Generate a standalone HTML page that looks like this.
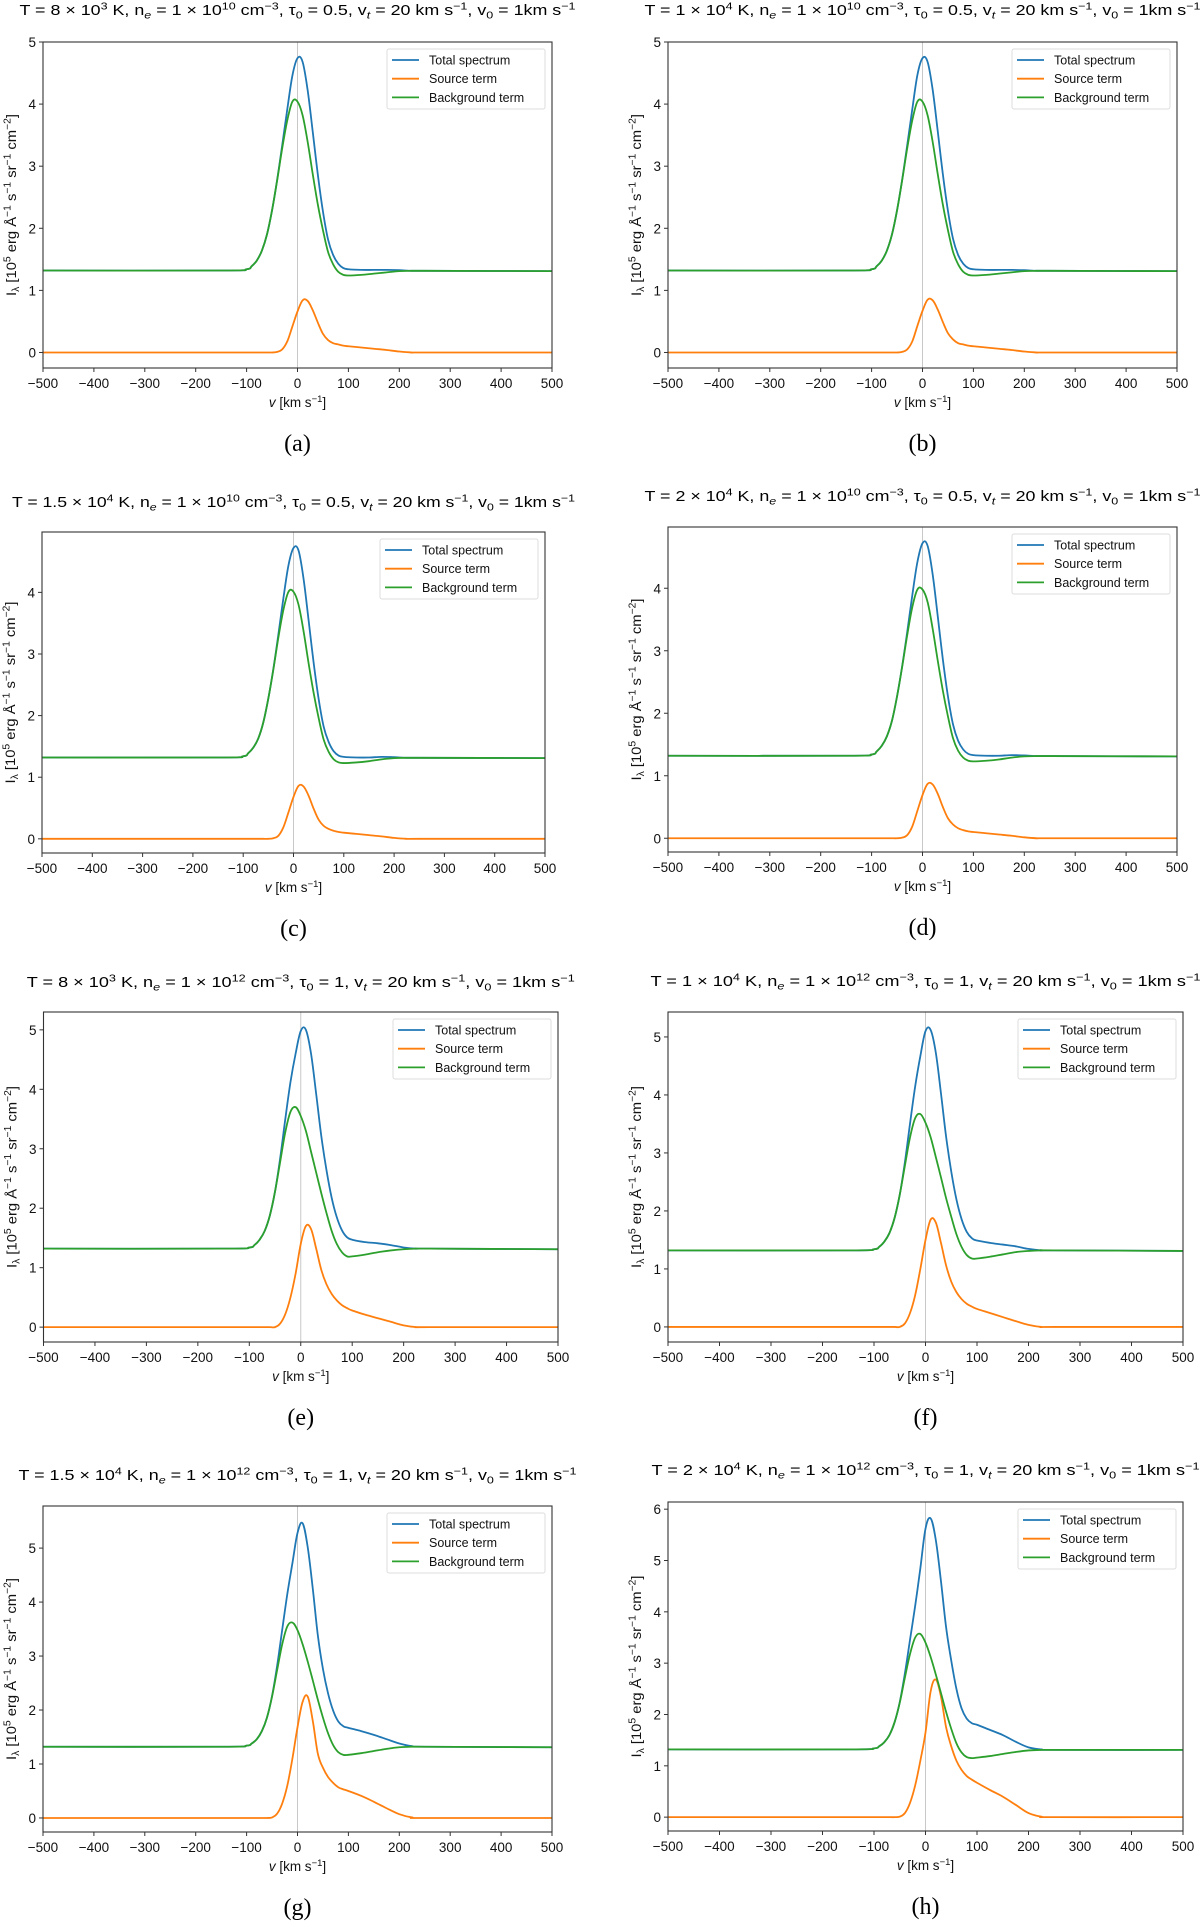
<!DOCTYPE html>
<html><head><meta charset="utf-8">
<style>
html,body{margin:0;padding:0;background:#fff;}
svg{display:block;font-family:"Liberation Sans","DejaVu Sans",sans-serif;}
</style></head>
<body>
<svg id="fig" width="1200" height="1924" viewBox="0 0 1200 1924" xmlns="http://www.w3.org/2000/svg"></svg>
<script>
// Shared velocity grid (km/s)
const velocities = [-500,-150,-100,-90,-80,-70,-60,-50,-40,-30,-20,-10,0,10,20,30,40,50,60,70,80,90,100,125,150,175,200,225,250,500];
const xTicks = [-500,-400,-300,-200,-100,0,100,200,300,400,500];
const xTickLabels = ["\u2212500","\u2212400","\u2212300","\u2212200","\u2212100","0","100","200","300","400","500"];

// (a)
const aBackground = [1.32,1.32,1.34,1.39,1.48,1.64,1.90,2.29,2.77,3.29,3.74,4.04,4.04,3.82,3.39,2.87,2.38,1.97,1.62,1.42,1.30,1.25,1.24,1.25,1.27,1.29,1.31,1.315,1.315,1.31];
const aSource = [0,0,0,0,0,0,0,0,0.01,0.05,0.18,0.42,0.66,0.84,0.83,0.68,0.48,0.30,0.20,0.15,0.13,0.11,0.10,0.08,0.06,0.04,0.015,0,0,0];
const aTotal = [1.32,1.32,1.34,1.39,1.48,1.64,1.90,2.29,2.78,3.34,3.92,4.46,4.74,4.68,4.22,3.55,2.86,2.27,1.82,1.57,1.43,1.36,1.34,1.33,1.33,1.33,1.325,1.315,1.315,1.31];
// (b)
const bBackground = [1.32,1.32,1.34,1.39,1.48,1.64,1.90,2.29,2.77,3.29,3.74,4.04,4.04,3.82,3.39,2.87,2.38,1.97,1.62,1.42,1.30,1.25,1.24,1.25,1.27,1.29,1.31,1.315,1.315,1.31];
const bSource = [0,0,0,0,0,0,0,0,0.01,0.05,0.18,0.43,0.67,0.85,0.84,0.69,0.49,0.31,0.21,0.15,0.13,0.11,0.10,0.08,0.06,0.04,0.015,0,0,0];
const bTotal = [1.32,1.32,1.34,1.39,1.48,1.64,1.90,2.29,2.78,3.34,3.92,4.47,4.74,4.68,4.23,3.56,2.87,2.28,1.83,1.57,1.43,1.36,1.34,1.33,1.33,1.33,1.325,1.315,1.315,1.31];
// (c)
const cBackground = [1.32,1.32,1.34,1.39,1.48,1.63,1.89,2.28,2.75,3.27,3.72,4.01,4.01,3.80,3.37,2.85,2.37,1.96,1.61,1.41,1.29,1.24,1.23,1.24,1.26,1.29,1.31,1.315,1.315,1.31];
const cSource = [0,0,0,0,0,0,0,0,0.01,0.05,0.19,0.43,0.68,0.86,0.85,0.70,0.49,0.31,0.21,0.16,0.13,0.11,0.10,0.08,0.06,0.04,0.015,0,0,0];
const cTotal = [1.32,1.32,1.34,1.39,1.48,1.63,1.89,2.28,2.76,3.32,3.91,4.44,4.72,4.68,4.22,3.55,2.86,2.27,1.82,1.57,1.42,1.35,1.33,1.32,1.32,1.33,1.325,1.315,1.315,1.31];
// (d)
const dBackground = [1.32,1.32,1.34,1.39,1.48,1.63,1.88,2.27,2.74,3.25,3.70,3.98,3.98,3.78,3.35,2.84,2.36,1.95,1.60,1.40,1.29,1.24,1.23,1.24,1.26,1.29,1.31,1.315,1.315,1.31];
const dSource = [0,0,0,0,0,0,0,0,0.01,0.05,0.19,0.44,0.69,0.87,0.86,0.71,0.50,0.32,0.22,0.16,0.13,0.11,0.10,0.08,0.06,0.04,0.015,0,0,0];
const dTotal = [1.32,1.32,1.34,1.39,1.48,1.63,1.88,2.27,2.75,3.30,3.89,4.42,4.72,4.68,4.22,3.55,2.86,2.27,1.82,1.56,1.42,1.35,1.33,1.32,1.32,1.33,1.325,1.315,1.315,1.31];
// (e)
const eBackground = [1.32,1.32,1.34,1.38,1.47,1.62,1.88,2.28,2.78,3.28,3.62,3.70,3.55,3.30,2.95,2.60,2.25,1.92,1.62,1.40,1.26,1.19,1.19,1.22,1.26,1.29,1.31,1.32,1.32,1.31];
const eSource = [0,0,0,0,0,0,0,0,0.06,0.22,0.50,0.90,1.40,1.70,1.65,1.32,0.96,0.72,0.56,0.45,0.37,0.32,0.28,0.21,0.15,0.09,0.03,0,0,0];
const eTotal = [1.32,1.32,1.34,1.38,1.47,1.62,1.88,2.28,2.84,3.50,4.12,4.60,4.98,5.00,4.60,3.92,3.21,2.64,2.18,1.85,1.63,1.51,1.47,1.43,1.41,1.38,1.34,1.32,1.32,1.31];
// (f)
const fBackground = [1.32,1.32,1.34,1.38,1.47,1.62,1.88,2.28,2.78,3.27,3.60,3.67,3.52,3.27,2.93,2.58,2.22,1.90,1.60,1.38,1.24,1.18,1.18,1.21,1.25,1.29,1.31,1.32,1.32,1.31];
const fSource = [0,0,0,0,0,0,0,0,0.06,0.24,0.55,1.00,1.50,1.85,1.80,1.45,1.06,0.78,0.60,0.48,0.40,0.35,0.31,0.24,0.17,0.10,0.035,0,0,0];
const fTotal = [1.32,1.32,1.34,1.38,1.47,1.62,1.88,2.28,2.84,3.51,4.15,4.67,5.10,5.12,4.73,4.03,3.28,2.68,2.20,1.86,1.64,1.53,1.49,1.45,1.42,1.39,1.345,1.32,1.32,1.31];
// (g)
const gBackground = [1.32,1.32,1.34,1.38,1.46,1.61,1.86,2.25,2.74,3.22,3.55,3.62,3.48,3.22,2.90,2.55,2.19,1.86,1.57,1.35,1.22,1.17,1.17,1.20,1.24,1.28,1.31,1.32,1.32,1.31];
const gSource = [0,0,0,0,0,0,0,0.01,0.08,0.27,0.60,1.10,1.68,2.15,2.25,1.80,1.19,0.93,0.76,0.65,0.57,0.53,0.50,0.41,0.30,0.18,0.07,0.01,0,0];
const gTotal = [1.32,1.32,1.34,1.38,1.46,1.61,1.86,2.26,2.82,3.49,4.15,4.72,5.28,5.46,5.02,4.25,3.38,2.76,2.31,1.99,1.79,1.70,1.67,1.61,1.54,1.46,1.38,1.33,1.32,1.31];
// (h)
const hBackground = [1.32,1.32,1.34,1.38,1.46,1.60,1.85,2.23,2.72,3.18,3.50,3.57,3.40,3.12,2.78,2.42,2.05,1.72,1.44,1.26,1.17,1.15,1.16,1.19,1.23,1.27,1.30,1.31,1.31,1.31];
const hSource = [0,0,0,0,0,0,0,0.01,0.08,0.28,0.62,1.10,1.65,2.45,2.68,2.35,1.75,1.38,1.10,0.92,0.80,0.73,0.67,0.53,0.40,0.24,0.08,0.01,0,0];
const hTotal = [1.32,1.32,1.34,1.38,1.46,1.60,1.85,2.24,2.80,3.46,4.12,4.85,5.62,5.82,5.40,4.60,3.70,3.05,2.50,2.12,1.92,1.83,1.80,1.70,1.60,1.47,1.36,1.32,1.31,1.31];

const seriesNames = ["Total spectrum","Source term","Background term"];
const colors = ["#1f77b4","#ff7f0e","#2ca02c"];

const panels = [
 {id:"a", total:aTotal, source:aSource, bg:aBackground, L:43, R:552, T:42, B:368, ymin:-0.25, ymax:5.0, yt:[0,1,2,3,4,5], tw:556, title:"T = 8 × 10^{3} K, n_{e} = 1 × 10^{10} cm^{−3}, τ_{0} = 0.5, v_{t} = 20 km s^{−1}, v_{0} = 1km s^{−1}"},
 {id:"b", total:bTotal, source:bSource, bg:bBackground, L:668, R:1177, T:42, B:368, ymin:-0.25, ymax:5.0, yt:[0,1,2,3,4,5], tw:556, title:"T = 1 × 10^{4} K, n_{e} = 1 × 10^{10} cm^{−3}, τ_{0} = 0.5, v_{t} = 20 km s^{−1}, v_{0} = 1km s^{−1}"},
 {id:"c", total:cTotal, source:cSource, bg:cBackground, L:42, R:545, T:532, B:853, ymin:-0.23, ymax:4.98, yt:[0,1,2,3,4], tw:563, title:"T = 1.5 × 10^{4} K, n_{e} = 1 × 10^{10} cm^{−3}, τ_{0} = 0.5, v_{t} = 20 km s^{−1}, v_{0} = 1km s^{−1}"},
 {id:"d", total:dTotal, source:dSource, bg:dBackground, L:668, R:1177, T:527, B:852, ymin:-0.22, ymax:4.98, yt:[0,1,2,3,4], tw:556, title:"T = 2 × 10^{4} K, n_{e} = 1 × 10^{10} cm^{−3}, τ_{0} = 0.5, v_{t} = 20 km s^{−1}, v_{0} = 1km s^{−1}"},
 {id:"e", total:eTotal, source:eSource, bg:eBackground, L:43.5, R:558, T:1012, B:1342, ymin:-0.25, ymax:5.30, yt:[0,1,2,3,4,5], tw:548, title:"T = 8 × 10^{3} K, n_{e} = 1 × 10^{12} cm^{−3}, τ_{0} = 1, v_{t} = 20 km s^{−1}, v_{0} = 1km s^{−1}"},
 {id:"f", total:fTotal, source:fSource, bg:fBackground, L:668, R:1183, T:1012, B:1342, ymin:-0.26, ymax:5.43, yt:[0,1,2,3,4,5], tw:550, title:"T = 1 × 10^{4} K, n_{e} = 1 × 10^{12} cm^{−3}, τ_{0} = 1, v_{t} = 20 km s^{−1}, v_{0} = 1km s^{−1}"},
 {id:"g", total:gTotal, source:gSource, bg:gBackground, L:43, R:552, T:1506, B:1832, ymin:-0.26, ymax:5.78, yt:[0,1,2,3,4,5], tw:558, title:"T = 1.5 × 10^{4} K, n_{e} = 1 × 10^{12} cm^{−3}, τ_{0} = 1, v_{t} = 20 km s^{−1}, v_{0} = 1km s^{−1}"},
 {id:"h", total:hTotal, source:hSource, bg:hBackground, L:668, R:1183, T:1502, B:1831, ymin:-0.27, ymax:6.14, yt:[0,1,2,3,4,5,6], tw:548, title:"T = 2 × 10^{4} K, n_{e} = 1 × 10^{12} cm^{−3}, τ_{0} = 1, v_{t} = 20 km s^{−1}, v_{0} = 1km s^{−1}"}
];
const titleY = {a:15,b:15,c:507,d:501,e:987,f:986,g:1480,h:1475};

const NS="http://www.w3.org/2000/svg";
const svg=document.getElementById("fig");
function mk(tag, attrs, parent){
  const e=document.createElementNS(NS,tag);
  for(const k in attrs) e.setAttribute(k,attrs[k]);
  (parent||svg).appendChild(e);
  return e;
}
function rich(textEl, str, size){
  const re=/(\^\{[^}]*\}|_\{[^}]*\})/g;
  const parts=str.split(re).filter(s=>s.length);
  let shift=0;
  parts.forEach(p=>{
    const t=document.createElementNS(NS,"tspan");
    let target=0, content=p, small=false, italic=false;
    if(p.startsWith("^{")){target=-0.38*size;content=p.slice(2,-1);small=true;}
    else if(p.startsWith("_{")){target=0.22*size;content=p.slice(2,-1);small=true; if(content==="t"||content==="e") italic=true;}
    t.setAttribute("dy",(target-shift).toFixed(2));
    shift=target;
    if(small) t.setAttribute("font-size",(size*0.7).toFixed(1));
    if(italic) t.setAttribute("font-style","italic");
    t.textContent=content;
    textEl.appendChild(t);
  });
}
function smoothPath(pts){
  let d="M"+pts[0][0].toFixed(2)+","+pts[0][1].toFixed(2);
  for(let i=0;i<pts.length-1;i++){
    const p0=pts[i-1]||pts[i], p1=pts[i], p2=pts[i+1], p3=pts[i+2]||p2;
    const t=0.18;
    const c1=[p1[0]+(p2[0]-p0[0])*t, p1[1]+(p2[1]-p0[1])*t];
    const c2=[p2[0]-(p3[0]-p1[0])*t, p2[1]-(p3[1]-p1[1])*t];
    d+="C"+c1[0].toFixed(2)+","+c1[1].toFixed(2)+" "+c2[0].toFixed(2)+","+c2[1].toFixed(2)+" "+p2[0].toFixed(2)+","+p2[1].toFixed(2);
  }
  return d;
}

panels.forEach(p=>{
  const g=mk("g",{});
  
  
  const xs=v=>p.L+(v+500)/1000*(p.R-p.L);
  const ys=y=>p.B-(y-p.ymin)/(p.ymax-p.ymin)*(p.B-p.T);
  const tt=mk("text",{x:(p.L+p.R)/2,y:titleY[p.id],"text-anchor":"middle","font-size":"15",fill:"#000",textLength:p.tw,lengthAdjust:"spacingAndGlyphs"},g);
  
  
  rich(tt,p.title,15);
  const cp=mk("clipPath",{id:"clip-"+p.id},g);
  mk("rect",{x:p.L,y:p.T,width:p.R-p.L,height:p.B-p.T},cp);
  const zl=mk("line",{x1:xs(0),x2:xs(0),y1:p.T,y2:p.B,stroke:"#c8c8c8","stroke-width":"1"},g);
  
  
  const sets=[p.total,p.source,p.bg];
  [0,1,2].forEach(k=>{
    const pts=velocities.map((v,i)=>[xs(v),ys(sets[k][i])]);
    const path=mk("path",{d:smoothPath(pts),fill:"none",stroke:colors[k],"stroke-width":"1.8","stroke-linejoin":"round","clip-path":"url(#clip-"+p.id+")"},g);
    
    
  });
  const fr=mk("rect",{x:p.L,y:p.T,width:p.R-p.L,height:p.B-p.T,fill:"none",stroke:"#333","stroke-width":"1.1"},g);
  
  
  xTicks.forEach((v,i)=>{
    mk("line",{x1:xs(v),x2:xs(v),y1:p.B,y2:p.B+4,stroke:"#333","stroke-width":"1"},g);
    const t=mk("text",{x:xs(v),y:p.B+20,"text-anchor":"middle","font-size":"13.5",fill:"#111"},g);
    
    
    t.textContent=xTickLabels[i];
  });
  p.yt.forEach(v=>{
    mk("line",{x1:p.L-4,x2:p.L,y1:ys(v),y2:ys(v),stroke:"#333","stroke-width":"1"},g);
    const t=mk("text",{x:p.L-7,y:ys(v)+5,"text-anchor":"end","font-size":"13.5",fill:"#111"},g);
    
    
    t.textContent=String(v);
  });
  const xl=mk("text",{x:(p.L+p.R)/2,y:p.B+39,"text-anchor":"middle","font-size":"13.5",fill:"#111"},g);
  
  
  const it=document.createElementNS(NS,"tspan");it.setAttribute("font-style","italic");it.textContent="v";xl.appendChild(it);
  const r1=document.createElementNS(NS,"tspan");r1.textContent=" [km s";xl.appendChild(r1);
  const r2=document.createElementNS(NS,"tspan");r2.setAttribute("dy","-5");r2.setAttribute("font-size","9.5");r2.textContent="−1";xl.appendChild(r2);
  const r3=document.createElementNS(NS,"tspan");r3.setAttribute("dy","5");r3.textContent="]";xl.appendChild(r3);
  const cy=(p.T+p.B)/2, cx=p.L-27;
  const yl=mk("text",{x:cx,y:cy,"text-anchor":"middle","font-size":"14",fill:"#111",transform:"rotate(-90 "+cx+" "+cy+")",textLength:"182",lengthAdjust:"spacingAndGlyphs"},g);
  
  
  rich(yl,"I_{λ} [10^{5} erg Å^{−1} s^{−1} sr^{−1} cm^{−2}]",14);
  const lw=158, lh=60, lx=p.R-7-lw, ly=p.T+7;
  const lg=mk("g",{},g);
  
  
  mk("rect",{x:lx,y:ly,width:lw,height:lh,rx:2,fill:"#fff",stroke:"#ddd","stroke-width":"1"},lg);
  seriesNames.forEach((n,k)=>{
    const yy=ly+11+k*18.7;
    const ent=mk("g",{},lg);
    
    
    mk("line",{x1:lx+5,x2:lx+32,y1:yy,y2:yy,stroke:colors[k],"stroke-width":"1.8"},ent);
    const t=mk("text",{x:lx+42,y:yy+4.5,"font-size":"12.5",fill:"#111"},ent);
    t.textContent=n;
  });
  const cap=mk("text",{x:(p.L+p.R)/2,y:p.B+83,"text-anchor":"middle","font-size":"24","font-family":"Liberation Serif, serif",fill:"#000"},g);
  
  
  cap.textContent="("+p.id+")";
});
</script>
</body></html>
